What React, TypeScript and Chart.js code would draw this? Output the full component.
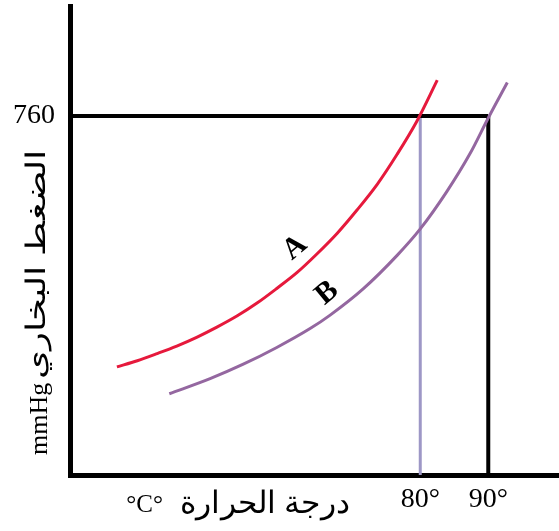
import React, { useEffect, useRef } from "react";
import { Chart, registerables } from "chart.js";

Chart.register(...registerables);

// Vapour pressure curves (temperature °C, pressure mmHg)
const curveATemps = [35.4, 38.4, 41.3, 44.2, 47.2, 50.1, 53.1, 56.0, 58.9, 61.9, 64.8, 67.8, 70.7, 73.7, 76.6, 79.5, 82.5];
const curveAPressures = [229, 242, 257, 273, 292, 313, 337, 364, 395, 429, 468, 512, 561, 616, 679, 749, 836];
const curveBTemps = [43.1, 49.1, 53.9, 58.9, 63.8, 66.7, 71.6, 76.6, 80.0, 83.9, 87.3, 90.0, 92.8];
const curveBPressures = [172, 204, 234, 270, 310, 338, 394, 465, 521, 600, 680, 756, 831];

// Reference values
const atmPressure = 760;
const boilA = 80;
const boilB = 90;
const xTickValues = [80, 90];
const xTickLabels = ["80°", "90°"];
const yTickValues = [760];
const yTickLabels = ["760"];

// Curve name labels (anchored in data units)
const curveNames = ["A", "B"];
const curveNameTemps = [61.6, 66.3];
const curveNamePressures = [481, 385];

const xMin = 28.5;
const xMax = 100.4;
const yMin = 0;
const yMax = 993;

const yTitleUnit = "mmHg";
const yTitleText = "الضغط البخاري";
const xTitleUnit = "°C°";
const xTitleText = "درجة الحرارة";

const SERIF = "'Liberation Serif', 'Times New Roman', serif";

export default function App() {
  const ref = useRef<HTMLCanvasElement | null>(null);

  useEffect(() => {
    if (!ref.current) return;
    const toPts = (xs: number[], ys: number[]) => xs.map((x, i) => ({ x, y: ys[i] }));

    const fitText = (ctx: any, text: string, x: number, y: number, width: number) => {
      const w = ctx.measureText(text).width;
      ctx.save();
      ctx.translate(x, y);
      ctx.scale(width / w, 1);
      ctx.fillText(text, 0, 0);
      ctx.restore();
    };

    const labelsPlugin = {
      id: "customLabels",
      afterDraw(chart: any) {
        const { ctx, chartArea, scales } = chart;
        const xs = scales.x;
        const ys = scales.y;
        ctx.save();
        ctx.fillStyle = "#000";
        // curve name labels
        ctx.font = `bold 30px ${SERIF}`;
        ctx.textAlign = "center";
        ctx.textBaseline = "middle";
        curveNames.forEach((n, i) => {
          const px = xs.getPixelForValue(curveNameTemps[i]);
          const py = ys.getPixelForValue(curveNamePressures[i]);
          ctx.save();
          ctx.translate(px, py);
          ctx.rotate((-40 * Math.PI) / 180);
          ctx.fillText(n, 0, 0);
          ctx.restore();
        });
        // y title (rotated, reading bottom to top)
        ctx.save();
        ctx.translate(chartArea.left - 23, chartArea.bottom - 20);
        ctx.rotate(-Math.PI / 2);
        ctx.textAlign = "left";
        ctx.textBaseline = "alphabetic";
        ctx.font = `26px ${SERIF}`;
        ctx.fillText(yTitleUnit, 0, 0);
        ctx.font = `27px ${SERIF}`;
        fitText(ctx, yTitleText, 76, -2, 230);
        ctx.restore();
        // x title
        ctx.textBaseline = "alphabetic";
        ctx.textAlign = "right";
        ctx.font = `25px ${SERIF}`;
        ctx.fillText(xTitleUnit, chartArea.left + 93, chartArea.bottom + 37);
        ctx.textAlign = "left";
        ctx.font = `31px ${SERIF}`;
        fitText(ctx, xTitleText, chartArea.left + 110, chartArea.bottom + 38, 170);
        ctx.restore();
      },
    };

    const chart = new Chart(ref.current, {
      type: "line",
      data: {
        datasets: [
          {
            label: "A",
            data: toPts(curveATemps, curveAPressures),
            borderColor: "#e6193c",
            borderWidth: 3,
            pointRadius: 0,
            cubicInterpolationMode: "monotone",
          },
          {
            label: "B",
            data: toPts(curveBTemps, curveBPressures),
            borderColor: "#9467a0",
            borderWidth: 3,
            pointRadius: 0,
            cubicInterpolationMode: "monotone",
          },
          {
            label: "760",
            data: [
              { x: xMin, y: atmPressure },
              { x: boilB, y: atmPressure },
            ],
            borderColor: "#000",
            borderWidth: 4,
            pointRadius: 0,
          },
          {
            label: "bpB",
            data: [
              { x: boilB, y: yMin },
              { x: boilB, y: atmPressure },
            ],
            borderColor: "#000",
            borderWidth: 4,
            pointRadius: 0,
          },
          {
            label: "bpA",
            data: [
              { x: boilA, y: yMin },
              { x: boilA, y: atmPressure },
            ],
            borderColor: "#9d97c6",
            borderWidth: 3,
            pointRadius: 0,
          },
        ],
      },
      options: {
        responsive: false,
        animation: false,
        layout: { padding: { left: 0, right: 0, top: 6, bottom: 0 } },
        plugins: { legend: { display: false }, tooltip: { enabled: false } },
        scales: {
          x: {
            type: "linear",
            min: xMin,
            max: xMax,
            grid: { display: false },
            border: { display: true, color: "#000", width: 5 },
            afterFit: (s: any) => {
              s.height = 56;
              s.paddingLeft = 0;
              s.paddingRight = 0;
            },
            afterBuildTicks: (s: any) => {
              s.ticks = xTickValues.map((v) => ({ value: v }));
            },
            ticks: {
              autoSkip: false,
              maxRotation: 0,
              padding: 0,
              color: "#000",
              font: { family: SERIF, size: 28 },
              callback: (v: any) => xTickLabels[xTickValues.indexOf(Number(v))] ?? "",
            },
          },
          y: {
            type: "linear",
            min: yMin,
            max: yMax,
            grid: { display: false },
            border: { display: true, color: "#000", width: 5 },
            afterFit: (s: any) => {
              s.width = 70;
              s.paddingTop = 0;
              s.paddingBottom = 0;
            },
            afterBuildTicks: (s: any) => {
              s.ticks = yTickValues.map((v) => ({ value: v }));
            },
            ticks: {
              padding: 7,
              color: "#000",
              font: { family: SERIF, size: 28 },
              callback: (v: any) => yTickLabels[yTickValues.indexOf(Number(v))] ?? "",
            },
          },
        },
      },
      plugins: [labelsPlugin],
    } as any);

    return () => chart.destroy();
  }, []);

  return (
    <div style={{ position: "absolute", left: 0, top: 0, width: 559, height: 531, background: "#fff" }}>
      <canvas ref={ref} width={559} height={531} />
    </div>
  );
}
